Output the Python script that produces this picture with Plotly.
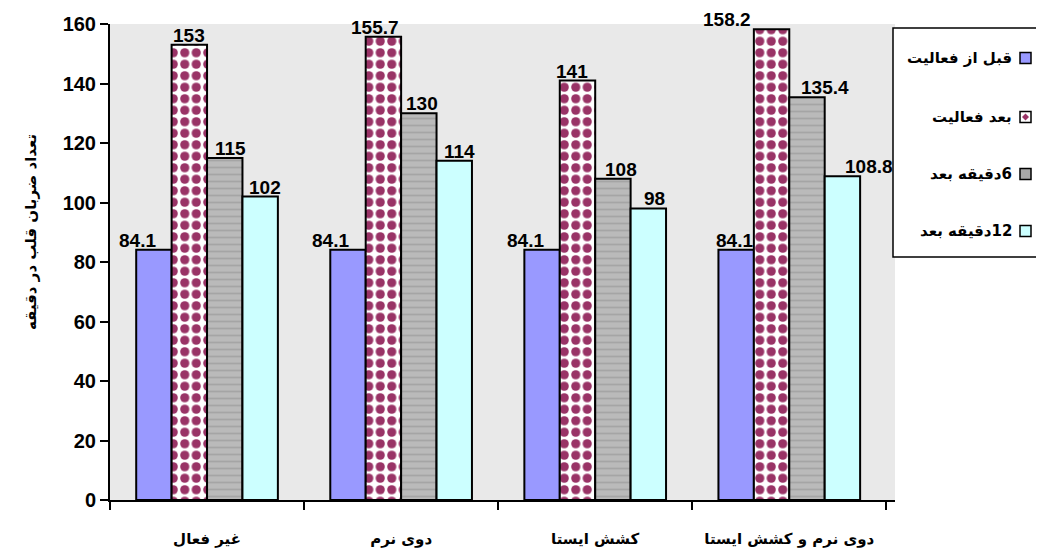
import plotly.graph_objects as go

# ---------------- data ----------------
categories = ["غیر فعال", "دوی نرم", "کشش ایستا", "دوی نرم و کشش ایستا"]
series_names = ["قبل از فعالیت", "بعد فعالیت", "6دقیقه بعد", "12دقیقه بعد"]
before_activity = [84.1, 84.1, 84.1, 84.1]
after_activity = [153, 155.7, 141, 158.2]
after_6_min = [115, 130, 108, 135.4]
after_12_min = [102, 114, 98, 108.8]
y_tick_values = [0, 20, 40, 60, 80, 100, 120, 140, 160]
y_title = "تعداد ضربان قلب در دقیقه"

series_values = [before_activity, after_activity, after_6_min, after_12_min]

# ---------------- styling ----------------
PAGE_OFF = 8                      # default body margin of the html page
W, H = 1044 - PAGE_OFF, 551 - PAGE_OFF
M_L, M_T = 110 - PAGE_OFF, 24 - PAGE_OFF
PLOT_W, PLOT_H = 785, 476
M_R = W - M_L - PLOT_W
M_B = H - M_T - PLOT_H
BARGAP = 0.27
NUM_FONT = "Liberation Sans, Arial, sans-serif"
FA_FONT = "DejaVu Sans, Noto Sans, sans-serif"

bar_styles = [
    dict(color="#9999ff"),
    dict(color="white", pattern=dict(shape=".", fgcolor="#993366", bgcolor="white",
                                     size=11.5, solidity=0.5, fillmode="replace")),
    dict(color="#b0b0b0", pattern=dict(shape="-", fgcolor="#8f8f8f", bgcolor="#bababa",
                                       size=7, solidity=0.25)),
    dict(color="#ccffff"),
]
# horizontal nudges of value labels (px), per series / per category
label_nudge = [
    [-16, -17, -16, -1],
    [0, -8, -5, -44],
    [6, 3, 8, 18],
    [4, 5, 6, 26],
]


def rtl(s):
    # right-to-left paragraph for Persian text (keeps numbers on the right)
    return "\u200f" + s


def px_x(px):
    return (px - PAGE_OFF - M_L) / PLOT_W


def px_y(py):
    return (M_T + PLOT_H - (py - PAGE_OFF)) / PLOT_H


fig = go.Figure()
for name, vals, st in zip(series_names, series_values, bar_styles):
    fig.add_trace(go.Bar(
        x=categories, y=vals, name=name, showlegend=False,
        marker=dict(line=dict(color="black", width=2), **st),
        hoverinfo="x+y",
    ))

# value labels
cat_w = PLOT_W / len(categories)
n = len(series_values)
bar_w = cat_w * (1 - BARGAP) / n
annotations = []
for i, vals in enumerate(series_values):
    for j, v in enumerate(vals):
        annotations.append(dict(
            x=categories[j], y=v, xref="x", yref="y",
            text=f"{v:g}", showarrow=False, yanchor="bottom",
            xshift=(i - (n - 1) / 2) * bar_w + label_nudge[i][j], yshift=-3,
            font=dict(family=NUM_FONT, size=19, color="black", weight="bold"),
        ))

# y axis title
annotations.append(dict(
    x=px_x(31), y=px_y(232), xref="paper", yref="paper", textangle=-90,
    text=rtl(y_title), showarrow=False, xanchor="center", yanchor="middle",
    font=dict(family=FA_FONT, size=15, color="black", weight="bold"),
))

# manual legend (swatch on the right of the text)
shapes = []
legend_box = (893, 28, 1043, 257)
shapes.append(dict(type="rect", xref="paper", yref="paper",
                   x0=px_x(legend_box[0]), x1=px_x(legend_box[2]),
                   y0=px_y(legend_box[3]), y1=px_y(legend_box[1]),
                   line=dict(color="black", width=1.5), fillcolor="white", layer="above"))
entry_y = [58, 117, 174, 231]
swatch_fill = ["#9999ff", "white", "#a8a8a8", "#ccffff"]
for k, name in enumerate(series_names):
    cy = entry_y[k]
    shapes.append(dict(type="rect", xref="paper", yref="paper",
                       x0=px_x(1020), x1=px_x(1031), y0=px_y(cy + 5.5), y1=px_y(cy - 5.5),
                       line=dict(color="black", width=1.5), fillcolor=swatch_fill[k], layer="above"))
    if k == 1:
        shapes.append(dict(type="path", xref="paper", yref="paper",
                           path=(f"M {px_x(1025.5)} {px_y(cy - 3.5)} L {px_x(1029)} {px_y(cy)} "
                                 f"L {px_x(1025.5)} {px_y(cy + 3.5)} L {px_x(1022)} {px_y(cy)} Z"),
                           line=dict(width=0), fillcolor="#993366", layer="above"))
    annotations.append(dict(
        x=px_x(1014), y=px_y(cy), xref="paper", yref="paper", xanchor="right", yanchor="middle",
        text=rtl(name), showarrow=False,
        font=dict(family=FA_FONT, size=15, color="black", weight="bold"),
    ))

fig.update_layout(
    width=W, height=H,
    margin=dict(l=M_L, r=M_R, t=M_T, b=M_B, autoexpand=False),
    paper_bgcolor="white", plot_bgcolor="#e9e9e9",
    barmode="group", bargap=BARGAP, bargroupgap=0,
    showlegend=False,
    annotations=annotations, shapes=shapes,
    xaxis=dict(
        tickmode="array", tickvals=categories,
        ticktext=[rtl(c) for c in categories],
        tickson="boundaries", ticks="outside", ticklen=8, tickwidth=2, tickcolor="black",
        ticklabelstandoff=24,
        showline=True, linecolor="black", linewidth=2, showgrid=False, zeroline=False,
        tickfont=dict(family=FA_FONT, size=15, color="black", weight="bold"),
        automargin=False,
    ),
    yaxis=dict(
        range=[0, 160], tickmode="array", tickvals=y_tick_values,
        ticks="outside", ticklen=8, tickwidth=2, tickcolor="black",
        showline=True, linecolor="black", linewidth=2, showgrid=False, zeroline=False,
        tickfont=dict(family=NUM_FONT, size=20, color="black", weight="bold"),
        automargin=False,
    ),
)

fig.write_html("out.html")
